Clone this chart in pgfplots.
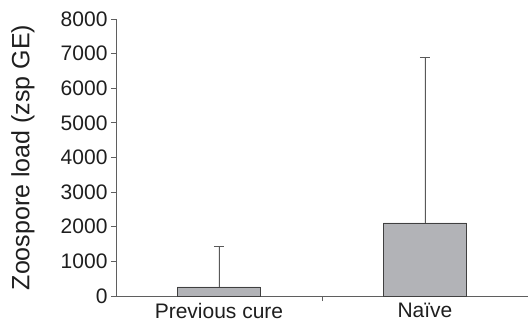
\documentclass[border=0pt]{standalone}
\usepackage{fontspec}
\setmainfont{Liberation Sans}
\usepackage{pgfplots}
\pgfplotsset{compat=1.18}
\definecolor{barfill}{RGB}{178,179,183}
\definecolor{axgray}{RGB}{95,95,95}
\definecolor{txt}{RGB}{30,30,30}
\begin{document}
\begin{tikzpicture}
\begin{axis}[
  scale only axis, width=412pt, height=277pt,
  at={(0,0)}, anchor=south west,
  xmin=-0.5, xmax=1.5, ymin=0, ymax=8000,
  axis x line=bottom, axis y line=left,
  axis line style={-, axgray, line width=0.8pt},
  ytick={0,1000,...,8000},
  yticklabel style={font=\fontsize{21}{21}\selectfont, text=txt},
  scaled y ticks=false,
  /pgf/number format/assume math mode=true,
  /pgf/number format/1000 sep={},
  major tick length=5pt,
  tick style={axgray, line width=0.8pt},
  tick align=outside,
  xtick={0.5}, xticklabels={},
  extra x ticks={0,1},
  extra x tick labels={Previous cure, Naïve},
  extra x tick style={major tick length=0pt, tick label style={font=\fontsize{21}{21}\selectfont, text=txt, yshift=-4pt}},
  ylabel={Zoospore load (zsp GE)},
  ylabel style={at={(axis description cs:-0.2257,0.5)}, anchor=center, font=\fontsize{25}{25}\selectfont, text=txt},
  clip=false,
]
\addplot[ybar, bar width=83pt, fill=barfill, draw=black!75, line width=0.8pt,
  error bars/.cd, y dir=plus, y explicit,
  error bar style={line width=0.9pt, color=black!65},
  error mark options={rotate=90, mark size=5pt, line width=0.9pt, color=black!65}]
  coordinates {(0,260) +- (0,1175) (1,2110) +- (0,4790)};
\end{axis}
\pgfresetboundingbox
\path[use as bounding box] (-116pt,-31pt) rectangle (412pt,296pt);
\end{tikzpicture}
\end{document}
